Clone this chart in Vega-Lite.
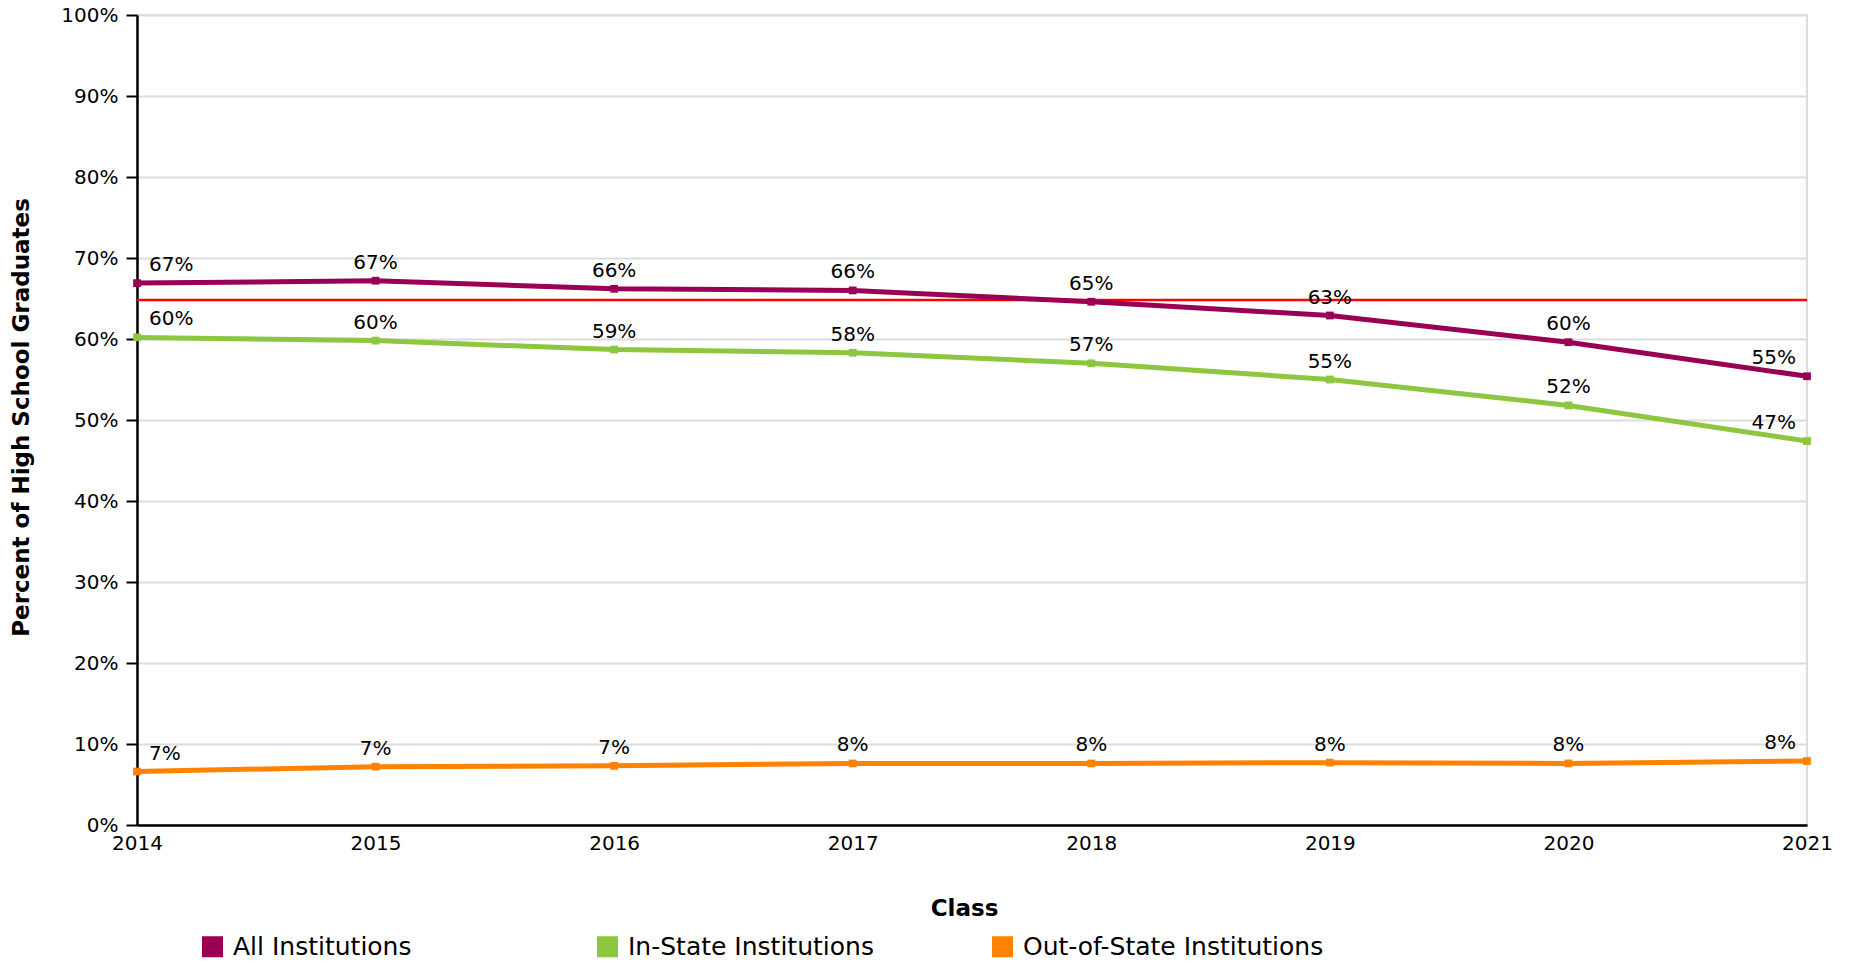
{
  "$schema": "https://vega.github.io/schema/vega-lite/v6.json",
  "width": 1670,
  "height": 810,
  "autosize": {"type": "none"},
  "padding": {"left": 137, "top": 15, "right": 51, "bottom": 139},
  "background": "white",
  "config": {
    "font": "DejaVu Sans",
    "view": {"stroke": "#dcdcdc", "strokeWidth": 2},
    "legend": {
      "orient": "none",
      "legendX": 63,
      "legendY": 919,
      "direction": "horizontal",
      "columns": 3,
      "gridAlign": "all",
      "columnPadding": 60,
      "symbolType": "square",
      "symbolSize": 380,
      "symbolOpacity": 1,
      "symbolStrokeWidth": 1.5,
      "labelFontSize": 25,
      "labelColor": "black",
      "labelOffset": 8,
      "labelLimit": 500
    }
  },
  "datasets": {
    "rates": [
      {"year": 2014, "series": "All Institutions", "pct": 0.669},
      {"year": 2015, "series": "All Institutions", "pct": 0.672},
      {"year": 2016, "series": "All Institutions", "pct": 0.662},
      {"year": 2017, "series": "All Institutions", "pct": 0.660},
      {"year": 2018, "series": "All Institutions", "pct": 0.646},
      {"year": 2019, "series": "All Institutions", "pct": 0.629},
      {"year": 2020, "series": "All Institutions", "pct": 0.596},
      {"year": 2021, "series": "All Institutions", "pct": 0.554},
      {"year": 2014, "series": "In-State Institutions", "pct": 0.602},
      {"year": 2015, "series": "In-State Institutions", "pct": 0.598},
      {"year": 2016, "series": "In-State Institutions", "pct": 0.587},
      {"year": 2017, "series": "In-State Institutions", "pct": 0.583},
      {"year": 2018, "series": "In-State Institutions", "pct": 0.570},
      {"year": 2019, "series": "In-State Institutions", "pct": 0.550},
      {"year": 2020, "series": "In-State Institutions", "pct": 0.518},
      {"year": 2021, "series": "In-State Institutions", "pct": 0.474},
      {"year": 2014, "series": "Out-of-State Institutions", "pct": 0.066},
      {"year": 2015, "series": "Out-of-State Institutions", "pct": 0.072},
      {"year": 2016, "series": "Out-of-State Institutions", "pct": 0.073},
      {"year": 2017, "series": "Out-of-State Institutions", "pct": 0.076},
      {"year": 2018, "series": "Out-of-State Institutions", "pct": 0.076},
      {"year": 2019, "series": "Out-of-State Institutions", "pct": 0.077},
      {"year": 2020, "series": "Out-of-State Institutions", "pct": 0.076},
      {"year": 2021, "series": "Out-of-State Institutions", "pct": 0.079}
    ],
    "target": [{"target": 0.648}]
  },
  "layer": [
    {
      "data": {"name": "target"},
      "mark": {"type": "rule", "color": "#ff0000", "strokeWidth": 2.5},
      "encoding": {
        "y": {"field": "target", "type": "quantitative", "scale": {"domain": [0, 1]}}
      }
    },
    {
      "data": {"name": "rates"},
      "mark": {"type": "line", "strokeWidth": 5},
      "encoding": {
        "x": {
          "field": "year", "type": "quantitative",
          "scale": {"domain": [2014, 2021], "nice": false, "zero": false},
          "axis": {
            "values": [2014, 2015, 2016, 2017, 2018, 2019, 2020, 2021],
            "format": "d",
            "title": "Class",
            "titleFont": "DejaVu Sans",
            "titleFontSize": 23,
            "titleFontWeight": "bold",
            "titleColor": "black",
            "titleX": 827,
            "titleY": 83,
            "titleAlign": "center",
            "titleBaseline": "middle",
            "labelFontSize": 20,
            "labelColor": "black",
            "labelPadding": 8,
            "labelFlush": false,
            "labelOverlap": false,
            "ticks": false,
            "grid": false,
            "domainColor": "black",
            "domainWidth": 2.5
          }
        },
        "y": {
          "field": "pct", "type": "quantitative",
          "scale": {"domain": [0, 1], "nice": false},
          "axis": {
            "values": [0, 0.1, 0.2, 0.3, 0.4, 0.5, 0.6, 0.7, 0.8, 0.9, 1],
            "format": ".0%",
            "title": "Percent of High School Graduates",
            "titleFont": "DejaVu Sans",
            "titleFontSize": 23,
            "titleFontWeight": "bold",
            "titleColor": "black",
            "titleAngle": -90,
            "titleX": -116,
            "titleY": 402,
            "titleAlign": "center",
            "titleBaseline": "middle",
            "labelFontSize": 20,
            "labelColor": "black",
            "labelPadding": 8,
            "labelOverlap": false,
            "tickSize": 11,
            "tickColor": "black",
            "tickWidth": 2,
            "domainColor": "black",
            "domainWidth": 2.5,
            "grid": true,
            "gridColor": "#dcdcdc",
            "gridWidth": 2
          }
        },
        "color": {
          "field": "series", "type": "nominal",
          "scale": {
            "domain": ["All Institutions", "In-State Institutions", "Out-of-State Institutions"],
            "range": ["#990055", "#8dc63f", "#ff8200"]
          },
          "title": null
        }
      }
    },
    {
      "data": {"name": "rates"},
      "mark": {"type": "point", "shape": "square", "filled": true, "size": 60, "opacity": 1},
      "encoding": {
        "x": {"field": "year", "type": "quantitative"},
        "y": {"field": "pct", "type": "quantitative"},
        "color": {"field": "series", "type": "nominal", "title": null}
      }
    },
    {
      "data": {"name": "rates"},
      "transform": [{"filter": "datum.year == 2014"}],
      "mark": {"type": "text", "align": "left", "baseline": "middle", "dx": 12, "dy": -18, "fontSize": 20, "color": "black"},
      "encoding": {
        "x": {"field": "year", "type": "quantitative"},
        "y": {"field": "pct", "type": "quantitative"},
        "text": {"field": "pct", "type": "quantitative", "format": ".0%"}
      }
    },
    {
      "data": {"name": "rates"},
      "transform": [{"filter": "datum.year > 2014 && datum.year < 2021"}],
      "mark": {"type": "text", "align": "center", "baseline": "middle", "dy": -18, "fontSize": 20, "color": "black"},
      "encoding": {
        "x": {"field": "year", "type": "quantitative"},
        "y": {"field": "pct", "type": "quantitative"},
        "text": {"field": "pct", "type": "quantitative", "format": ".0%"}
      }
    },
    {
      "data": {"name": "rates"},
      "transform": [{"filter": "datum.year == 2021"}],
      "mark": {"type": "text", "align": "right", "baseline": "middle", "dx": -11, "dy": -18, "fontSize": 20, "color": "black"},
      "encoding": {
        "x": {"field": "year", "type": "quantitative"},
        "y": {"field": "pct", "type": "quantitative"},
        "text": {"field": "pct", "type": "quantitative", "format": ".0%"}
      }
    }
  ]
}
